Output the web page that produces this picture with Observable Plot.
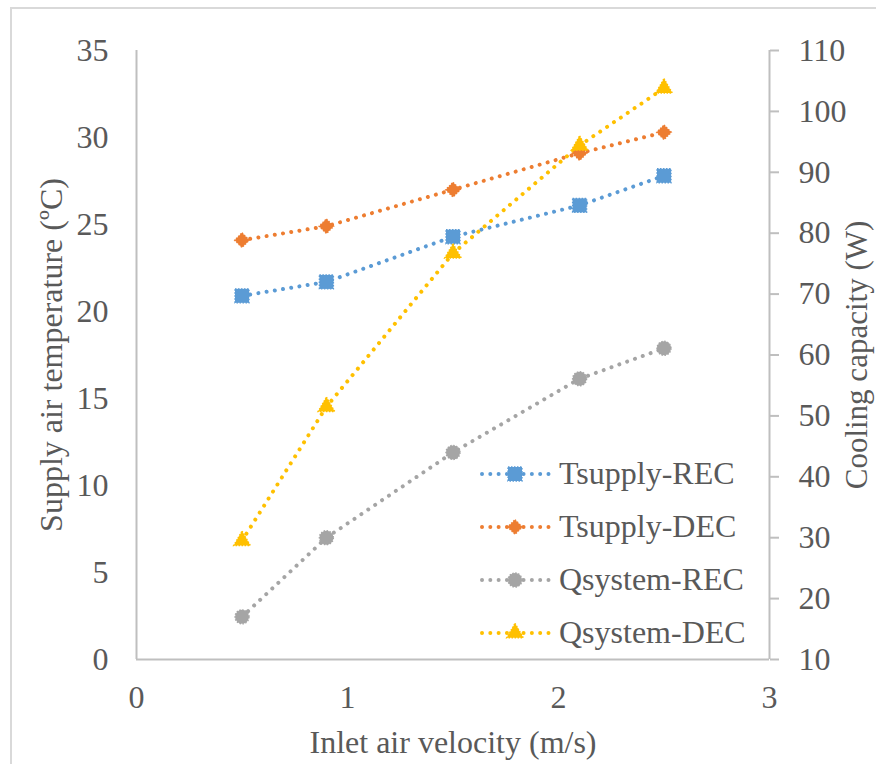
<!DOCTYPE html>
<html><head><meta charset="utf-8">
<script src="https://cdn.jsdelivr.net/npm/d3@7"></script>
<script src="https://cdn.jsdelivr.net/npm/@observablehq/plot@0.6"></script>
<style>
html,body{margin:0;padding:0;background:#fff;overflow:hidden;}
#wrap{position:relative;width:876px;height:764px;font-family:"Liberation Serif","Times New Roman",serif;color:#595959;background:#fff;}
#chart{position:absolute;left:0;top:0;}
#frame{position:absolute;left:10px;top:7px;width:900px;height:800px;border:2px solid #d9d9d9;box-sizing:border-box;pointer-events:none;}
#legend{position:absolute;left:479px;top:447px;}
.row{display:flex;align-items:center;height:53px;font-size:32px;white-space:nowrap;color:#595959;}
.row svg{margin-right:6px;}
</style></head><body>
<div id="wrap"><div id="chart"></div><div id="frame"></div><div id="legend"></div></div>
<script>
const velocity = [0.5, 0.9, 1.5, 2.1, 2.5];
const tsupplyREC = [20.9, 21.7, 24.3, 26.1, 27.8];
const tsupplyDEC = [24.1, 24.9, 27.0, 29.1, 30.3];
const qsystemREC = [17.0, 30.0, 44.0, 56.1, 61.1];
const qsystemDEC = [29.5, 51.5, 76.7, 94.4, 103.8];
const seriesNames = ["Tsupply-REC", "Tsupply-DEC", "Qsystem-REC", "Qsystem-DEC"];
const seriesColors = ["#5B9BD5", "#ED7D31", "#A5A5A5", "#FFC000"];
const seriesSymbols = ["square", "diamond2", "circle", "triangle"];
const seriesAxis = ["left", "left", "right", "right"];
const xTicks = [0, 1, 2, 3];
const leftTicks = [0, 5, 10, 15, 20, 25, 30, 35];
const rightTicks = [10, 20, 30, 40, 50, 60, 70, 80, 90, 100, 110];
const xLabel = "Inlet air velocity (m/s)";
const leftLabel = "Supply air temperature (ºC)";
const rightLabel = "Cooling capacity (W)";

const leftDomain = [0, 35];
const rightDomain = [10, 110];
const toLeft = q => (q - rightDomain[0]) * (leftDomain[1] - leftDomain[0]) / (rightDomain[1] - rightDomain[0]) + leftDomain[0];
const fromLeft = t => (t - leftDomain[0]) * (rightDomain[1] - rightDomain[0]) / (leftDomain[1] - leftDomain[0]) + rightDomain[0];

const seriesValues = [tsupplyREC, tsupplyDEC, qsystemREC, qsystemDEC];
const table = [];
seriesValues.forEach((vals, s) => {
  vals.forEach((v, i) => table.push({
    series: seriesNames[s], x: velocity[i],
    y: seriesAxis[s] === "right" ? toLeft(v) : v
  }));
});

const symR = {square: 7.9, diamond2: 6.6, circle: 7, triangle: 6.2};
const lineMarks = [];
const dotMarks = [];
seriesNames.forEach((name, s) => {
  const data = table.filter(d => d.series === name);
  lineMarks.push(Plot.line(data, {x: "x", y: "y", stroke: seriesColors[s], strokeWidth: 4,
    strokeDasharray: "0.01,8.3", strokeLinecap: "round"}));
  dotMarks.push(Plot.dot(data, {x: "x", y: "y", symbol: () => seriesSymbols[s], r: symR[seriesSymbols[s]],
    fill: seriesColors[s], stroke: seriesColors[s], strokeWidth: 1.4, strokeDasharray: "1.5,1.5"}));
});

const axisColor = "#bfbfbf";
const chart = Plot.plot({
  width: 876, height: 764,
  marginLeft: 136, marginRight: 107, marginTop: 50, marginBottom: 105,
  style: {fontFamily: '"Liberation Serif","Times New Roman",serif', fontSize: "32px", color: "#595959", background: "transparent"},
  x: {domain: [0, 3]},
  y: {domain: leftDomain},
  symbol: {type: "identity"},
  marks: [
    Plot.ruleY([0], {stroke: axisColor, strokeWidth: 2}),
    Plot.ruleX([0, 3], {stroke: axisColor, strokeWidth: 2}),
    Plot.axisX({ticks: xTicks, tickSize: 0, tickPadding: 26, label: null, fill: "#595959", tickFormat: d => String(d)}),
    Plot.axisY({anchor: "left", ticks: leftTicks, tickSize: 0, tickPadding: 28, label: null, fill: "#595959", tickFormat: d => String(d)}),
    Plot.axisY(rightTicks.map(toLeft), {anchor: "right", tickSize: 9, tickPadding: 20, label: null,
      stroke: axisColor, strokeWidth: 2, strokeOpacity: 1, fill: "#595959", tickFormat: d => String(Math.round(fromLeft(d)))}),
    ...lineMarks,
    ...dotMarks,
    Plot.text([xLabel], {text: d => d, frameAnchor: "bottom", textAnchor: "middle", lineAnchor: "middle", dy: 83, fill: "#595959"}),
    Plot.text([leftLabel], {text: d => d, frameAnchor: "left", textAnchor: "middle", lineAnchor: "middle", rotate: -90, dx: -85, fill: "#595959"}),
    Plot.text([rightLabel], {text: d => d, frameAnchor: "right", textAnchor: "middle", lineAnchor: "middle", rotate: -90, dx: 88, fontSize: 31, fill: "#595959"})
  ]
});
document.getElementById("chart").appendChild(chart);

// legend
const legend = d3.select("#legend");
const typeMap = {square: d3.symbolSquare, diamond2: d3.symbolDiamond2, circle: d3.symbolCircle, triangle: d3.symbolTriangle};
seriesNames.forEach((name, s) => {
  const row = legend.append("div").attr("class", "row");
  const svg = row.append("svg").attr("width", 74).attr("height", 24);
  svg.append("line").attr("x1", 3).attr("x2", 71).attr("y1", 12).attr("y2", 12)
    .attr("stroke", seriesColors[s]).attr("stroke-width", 4)
    .attr("stroke-dasharray", "0.01,8.3").attr("stroke-linecap", "round");
  const r = symR[seriesSymbols[s]];
  svg.append("path").attr("transform", "translate(36,12)")
    .attr("d", d3.symbol(typeMap[seriesSymbols[s]], Math.PI * r * r)())
    .attr("fill", seriesColors[s]).attr("stroke", seriesColors[s]).attr("stroke-width", 1.4).attr("stroke-dasharray", "1.5,1.5");
  row.append("span").text(name);
});
</script>
</body></html>
